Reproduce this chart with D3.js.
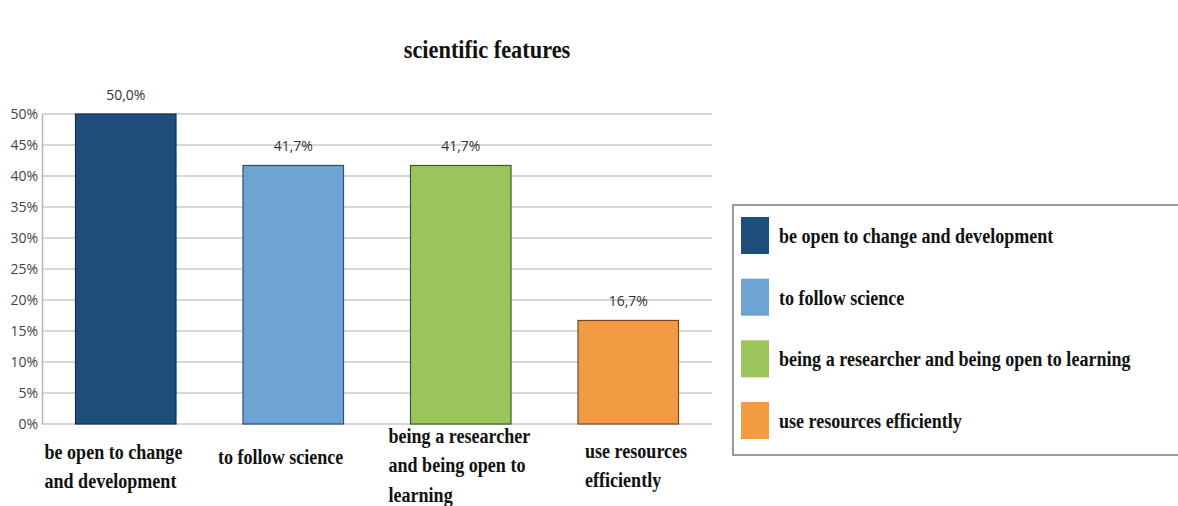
<!DOCTYPE html>
<html>
<head>
<meta charset="utf-8">
<script src="https://cdn.jsdelivr.net/npm/d3@7"></script>
<style>
  html, body { margin: 0; padding: 0; background: #fff; }
  svg { display: block; }
</style>
</head>
<body>
<svg id="chart" width="1178" height="506"></svg>
<script>
// Survey responses: share of participants choosing each scientific feature
const categories = [
  "be open to change and development",
  "to follow science",
  "being a researcher and being open to learning",
  "use resources efficiently"
];
// Wrapped axis labels under each bar
const axisLabelLines = [
  ["be open to change", "and development"],
  ["to follow science"],
  ["being a researcher", "and being open to", "learning"],
  ["use resources", "efficiently"]
];
const values = [50.0, 41.7, 41.7, 16.7];
const colors = ["#1d4e7c", "#6ea4d4", "#9bc55a", "#f29b42"];
const strokes = ["#16324d", "#2f4f6e", "#3d5a2a", "#7a4a1e"];
const yTicks = [0, 5, 10, 15, 20, 25, 30, 35, 40, 45, 50];
const title = "scientific features";

const svg = d3.select("#chart");
const plot = { left: 42, right: 712, top: 114, bottom: 424 };
const serif = "Liberation Serif, Times New Roman, serif";
// Narrow, tall serif lettering
const SQUEEZE = 0.86;

const x = d3.scaleBand()
  .domain(categories)
  .range([plot.left, plot.right])
  .paddingInner(0.4)
  .paddingOuter(0.2);

const y = d3.scaleLinear()
  .domain([0, 50])
  .range([plot.bottom, plot.top]);

function serifText(parent, px, py, size, lines, lineGap, anchor) {
  const t = parent.append("text")
    .attr("transform", `translate(${px},${py}) scale(${SQUEEZE},1)`)
    .attr("font-family", serif)
    .attr("font-weight", "bold")
    .attr("font-size", size)
    .attr("fill", "#111")
    .attr("text-anchor", anchor || "start");
  lines.forEach((ln, k) => {
    t.append("tspan").attr("x", 0).attr("y", k * lineGap).text(ln);
  });
  return t;
}

// Title
serifText(svg, 487, 58, 26, [title], 0, "middle");

// Horizontal gridlines
svg.append("g")
  .selectAll("line")
  .data(yTicks)
  .join("line")
  .attr("x1", plot.left).attr("x2", plot.right)
  .attr("y1", d => y(d)).attr("y2", d => y(d))
  .attr("stroke", "#c9c9c9")
  .attr("stroke-width", 1.6);

// Y axis
const yAxis = d3.axisLeft(y)
  .tickValues(yTicks)
  .tickSize(0)
  .tickPadding(4)
  .tickFormat(d => d + "%");

const yg = svg.append("g")
  .attr("transform", `translate(${plot.left},0)`)
  .call(yAxis);
yg.select(".domain").attr("stroke", "#b5b5b5").attr("stroke-width", 1.5);
yg.selectAll("text")
  .attr("font-family", "Open Sans, DejaVu Sans, sans-serif")
  .attr("font-size", 14)
  .attr("fill", "#444");

// Bars
svg.append("g")
  .selectAll("rect")
  .data(values)
  .join("rect")
  .attr("x", (d, i) => x(categories[i]))
  .attr("y", d => y(d))
  .attr("width", x.bandwidth())
  .attr("height", d => y(0) - y(d))
  .attr("fill", (d, i) => colors[i])
  .attr("stroke", (d, i) => strokes[i])
  .attr("stroke-width", 1.2);

// Value labels above bars
svg.append("g")
  .selectAll("text")
  .data(values)
  .join("text")
  .attr("x", (d, i) => x(categories[i]) + x.bandwidth() / 2)
  .attr("y", d => y(d) - 14)
  .attr("text-anchor", "middle")
  .attr("font-family", "Open Sans, DejaVu Sans, sans-serif")
  .attr("font-size", 14)
  .attr("fill", "#333")
  .text(d => d.toFixed(1).replace(".", ",") + "%");

// Category labels under the axis
const labelOffsets = [
  { dx: -31, y0: 459 },
  { dx: -25, y0: 464 },
  { dx: -22, y0: 443 },
  { dx: 7, y0: 458 }
];
const catG = svg.append("g");
axisLabelLines.forEach((lines, i) => {
  serifText(catG, x(categories[i]) + labelOffsets[i].dx, labelOffsets[i].y0, 21, lines, 29.5);
});

// Legend
const legend = svg.append("g");
legend.append("rect")
  .attr("x", 733).attr("y", 205)
  .attr("width", 460).attr("height", 250)
  .attr("fill", "#fff")
  .attr("stroke", "#9a9a9a")
  .attr("stroke-width", 2);

const legendRow = d3.scalePoint()
  .domain(categories)
  .range([236, 421]);

const items = legend.selectAll("g.item")
  .data(categories)
  .join("g")
  .attr("class", "item")
  .attr("transform", d => `translate(741,${legendRow(d)})`);

items.append("rect")
  .attr("x", 0).attr("y", -19)
  .attr("width", 28).attr("height", 37)
  .attr("fill", (d, i) => colors[i]);

items.each(function (d) {
  serifText(d3.select(this), 38, 7, 21, [d], 0);
});
</script>
</body>
</html>
